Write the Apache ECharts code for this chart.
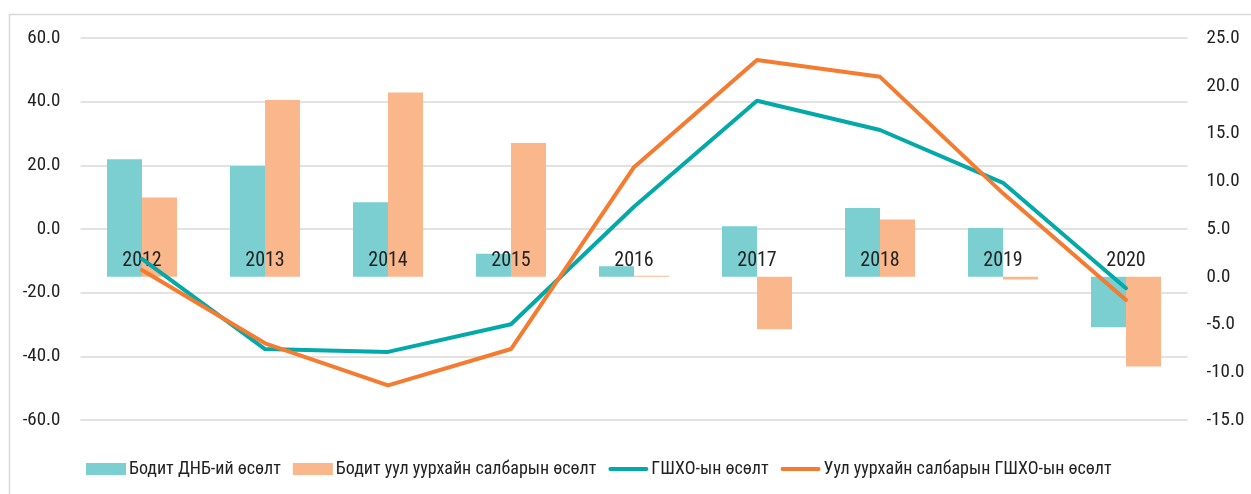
<!DOCTYPE html>
<html>
<head>
<meta charset="utf-8">
<script src="https://cdn.jsdelivr.net/npm/echarts@6/dist/echarts.min.js"></script>
<style>
html,body{margin:0;padding:0;background:#fff;}
#chart{width:1251px;height:494px;}
</style>
</head>
<body>
<div id="chart"></div>
<script>
const categories = ['2012','2013','2014','2015','2016','2017','2018','2019','2020'];
const gdpGrowth = [12.3, 11.6, 7.8, 2.4, 1.1, 5.3, 7.2, 5.1, -5.3];
const miningGrowth = [8.3, 18.5, 19.3, 14.0, 0.1, -5.5, 6.0, -0.3, -9.4];
const fdiGrowth = [-9.4, -37.7, -38.6, -29.9, 7.0, 40.3, 31.1, 14.5, -18.6];
const miningFdiGrowth = [-12.9, -35.9, -49.1, -37.7, 19.4, 53.1, 47.8, 11.2, -22.3];
const seriesNames = ['Бодит ДНБ-ий өсөлт','Бодит уул уурхайн салбарын өсөлт','ГШХО-ын өсөлт','Уул уурхайн салбарын ГШХО-ын өсөлт'];

const FONT = '"Liberation Sans Narrow","Roboto Condensed","DejaVu Sans Condensed",sans-serif';
const LINE_ICON = 'path://M2,0 L40,0 A2,2 0 0 1 40,4 L2,4 A2,2 0 0 1 2,0 Z';
const chart = echarts.init(document.getElementById('chart'), null, {renderer:'canvas'});
chart.setOption({
  animation:false,
  backgroundColor:'#ffffff',
  textStyle:{fontFamily:FONT},
  graphic:[{type:'rect',left:7,top:12,shape:{width:1400,height:700},style:{fill:'none',stroke:'#d9d9d9',lineWidth:1.5},silent:true,z:-1}],
  grid:{left:80.5,right:63.5,top:38,bottom:74,containLabel:false},
  legend:{
    left:81,top:455,itemGap:12,itemWidth:40,itemHeight:12,
    textStyle:{fontFamily:FONT,fontSize:18,color:'#222',padding:[0,0,0,-2]},
    data:[
      {name:seriesNames[0],icon:'rect'},
      {name:seriesNames[1],icon:'rect'},
      {name:seriesNames[2],icon:LINE_ICON},
      {name:seriesNames[3],icon:LINE_ICON}
    ]
  },
  xAxis:{
    type:'category',data:categories,position:'bottom',z:10,
    axisLine:{show:false,onZero:false},
    axisTick:{show:false},
    axisLabel:{fontFamily:FONT,fontSize:20,color:'#222',margin:-169},
    splitLine:{show:false}
  },
  yAxis:[
    {type:'value',min:-60,max:60,interval:20,
     axisLine:{show:false},axisTick:{show:false},
     axisLabel:{fontFamily:FONT,fontSize:19,color:'#222',margin:20,formatter:v=>v.toFixed(1)},
     splitLine:{show:true,lineStyle:{color:'#d9d9d9',width:1.5}}},
    {type:'value',min:-15,max:25,interval:5,position:'right',
     axisLine:{show:false},axisTick:{show:false},
     axisLabel:{fontFamily:FONT,fontSize:19,color:'#222',margin:19,formatter:v=>v.toFixed(1)},
     splitLine:{show:false}}
  ],
  series:[
    {name:seriesNames[0],type:'bar',yAxisIndex:1,data:gdpGrowth,barWidth:35,barGap:'0%',
     itemStyle:{color:'#7bcfd1'}},
    {name:seriesNames[1],type:'bar',yAxisIndex:1,data:miningGrowth,barWidth:35,barGap:'0%',
     itemStyle:{color:'#fab78b'}},
    {name:seriesNames[2],type:'line',yAxisIndex:0,data:fdiGrowth,symbol:'none',z:12,
     lineStyle:{color:'#03a9a8',width:4,cap:'round',join:'round'},itemStyle:{color:'#03a9a8'}},
    {name:seriesNames[3],type:'line',yAxisIndex:0,data:miningFdiGrowth,symbol:'none',z:12,
     lineStyle:{color:'#f47b2f',width:4,cap:'round',join:'round'},itemStyle:{color:'#f47b2f'}}
  ]
});
</script>
</body>
</html>
